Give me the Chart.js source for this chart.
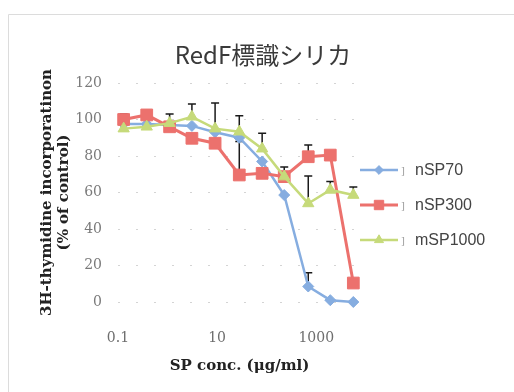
<!DOCTYPE html>
<html><head><meta charset="utf-8">
<script src="https://cdn.jsdelivr.net/npm/chart.js@4"></script>
<style>html,body{margin:0;padding:0;background:#fff;}#wrap{width:514px;height:392px;position:relative;}</style>
</head><body><div id="wrap"><canvas id="c" width="514" height="392"></canvas></div>
<script>
const titleText = 'RedF標識シリカ';
const seriesNames = ['nSP70', 'nSP300', 'mSP1000'];
const concentrations = [0.13, 0.38, 1.1, 3.1, 9.1, 28, 81, 226, 690, 1920, 5600];
const nSP70 = [97.5, 97.5, 97, 96.5, 93, 90, 77, 58.6, 8.5, 1, 0];
const nSP300 = [100, 102.5, 96, 89.7, 87, 69.6, 70.5, 68.7, 79.6, 80.5, 10.4];
const mSP1000 = [95, 96, 98, 101.5, 95, 93.3, 84, 68.7, 54, 61.4, 58.6];
const nSP70Upper = [null, null, null, null, null, null, null, null, 16, null, null];
const nSP300Upper = [103, 105, null, null, null, 88, null, 74, 86, null, null];
const mSP1000Upper = [null, null, 103, 108.5, 109, 102, 92.5, null, 69, 66, 63];
const xTickValues = [0.1, 10, 1000];
const xTickLabels = ['0.1', '10', '1000'];
const yTickValues = [0, 20, 40, 60, 80, 100, 120];
const xTitle = 'SP conc. (μg/ml)';
const yTitle = ['3H-thymidine incorporatinon', '(% of control)'];

const seriesValues = [nSP70, nSP300, mSP1000];
const seriesUpper = [nSP70Upper, nSP300Upper, mSP1000Upper];
const styles = [
  {color: '#86ADE0', pointStyle: 'rectRot', radius: 5.5, width: 2.5, order: 2},
  {color: '#EC716D', pointStyle: 'rect', radius: 8.3, width: 3, order: 1},
  {color: '#C6DA7A', pointStyle: 'triangle', radius: 6.5, width: 2.5, order: 0}
];

const datasets = seriesNames.map((name, i) => ({
  label: name,
  data: concentrations.map((c, j) => ({x: c, y: seriesValues[i][j]})),
  borderColor: styles[i].color,
  backgroundColor: styles[i].color,
  pointBackgroundColor: styles[i].color,
  pointBorderColor: styles[i].color,
  pointStyle: styles[i].pointStyle,
  pointRadius: styles[i].radius,
  pointBorderWidth: 1,
  borderWidth: styles[i].width,
  tension: 0,
  order: styles[i].order,
  clip: false
}));

const serif = '"DejaVu Serif", "Liberation Serif", serif';

const framePlugin = {
  id: 'frame',
  beforeDraw(chart) {
    const ctx = chart.ctx;
    ctx.save();
    ctx.fillStyle = '#fff';
    ctx.fillRect(0, 0, chart.width, chart.height);
    ctx.strokeStyle = '#dcdcdc';
    ctx.lineWidth = 1;
    ctx.beginPath();
    ctx.moveTo(8.5, chart.height);
    ctx.lineTo(8.5, 14.5);
    ctx.lineTo(chart.width, 14.5);
    ctx.stroke();
    ctx.restore();
  },
  afterDraw(chart) {
    const ctx = chart.ctx;
    ctx.save();
    ctx.fillStyle = '#3a3a3a';
    ctx.font = '24px "Noto Sans CJK JP", "Noto Sans", sans-serif';
    ctx.textAlign = 'center';
    ctx.textBaseline = 'middle';
    ctx.fillText(titleText, 263, 55);
    ctx.restore();
  }
};

const errorBarPlugin = {
  id: 'errorBars',
  beforeDatasetsDraw(chart) {
    const ctx = chart.ctx, xs = chart.scales.x, ys = chart.scales.y;
    ctx.save();
    ctx.strokeStyle = '#1a1a1a';
    ctx.lineWidth = 1.5;
    seriesUpper.forEach((up, i) => {
      up.forEach((u, j) => {
        if (u === null) return;
        const px = xs.getPixelForValue(concentrations[j]);
        const py0 = ys.getPixelForValue(seriesValues[i][j]);
        const py1 = ys.getPixelForValue(u);
        ctx.beginPath();
        ctx.moveTo(px, py0); ctx.lineTo(px, py1);
        ctx.moveTo(px - 4, py1); ctx.lineTo(px + 4, py1);
        ctx.stroke();
      });
    });
    ctx.restore();
  }
};

const legendPlugin = {
  id: 'customLegend',
  afterDraw(chart) {
    const ctx = chart.ctx;
    const x0 = 360, x1 = 398, tx = 415, top = 170, gap = 35;
    ctx.save();
    chart.data.datasets.forEach((ds, i) => {
      const y = top + gap * i;
      ctx.strokeStyle = ds.borderColor;
      ctx.lineWidth = ds.borderWidth;
      ctx.beginPath(); ctx.moveTo(x0, y); ctx.lineTo(x1, y); ctx.stroke();
      ctx.fillStyle = ds.backgroundColor;
      ctx.lineWidth = 1;
      Chart.helpers.drawPoint(ctx, {pointStyle: ds.pointStyle, radius: ds.pointRadius * 0.8, rotation: 0, borderWidth: 1}, (x0 + x1) / 2, y);
      ctx.fillStyle = '#a0a0a0';
      ctx.font = '10px ' + serif;
      ctx.textBaseline = 'middle';
      ctx.fillText(']', x1 + 3, y + 1);
      ctx.fillStyle = '#444';
      ctx.font = '16px "Liberation Sans", Arial, sans-serif';
      ctx.fillText(ds.label, tx, y + 1);
    });
    ctx.restore();
  }
};

new Chart(document.getElementById('c'), {
  type: 'line',
  data: {datasets},
  options: {
    responsive: false,
    animation: false,
    devicePixelRatio: 1,
    layout: {padding: {left: 0, right: 153, top: 83, bottom: 0}},
    plugins: {
      legend: {display: false},
      tooltip: {enabled: false},
      title: {display: false}
    },
    scales: {
      x: {
        type: 'logarithmic', min: 0.1, max: 8000,
        grid: {display: false},
        border: {display: false},
        afterBuildTicks: s => { s.ticks = xTickValues.map(v => ({value: v})); },
        afterFit: s => { s.height = 90; },
        ticks: {
          autoSkip: false, maxRotation: 0, padding: 20, color: '#6e6e6e',
          font: {family: serif, size: 14},
          callback: v => { const k = xTickValues.indexOf(v); return k >= 0 ? xTickLabels[k] : ''; }
        },
        title: {
          display: true, text: xTitle, color: '#222',
          font: {family: serif, size: 15, weight: 'bold'},
          padding: {top: 0, bottom: 17}
        }
      },
      y: {
        min: 0, max: 120,
        afterBuildTicks: s => { s.ticks = yTickValues.map(v => ({value: v})); },
        afterFit: s => { s.width = 118; },
        grid: {color: '#d4d4d4', drawTicks: false, lineWidth: 1},
        border: {display: false, dash: [2, 16]},
        ticks: {padding: 16, color: '#7a7a7a', font: {family: serif, size: 14}},
        title: {
          display: true, text: yTitle, color: '#222',
          font: {family: serif, size: 15, weight: 'bold', lineHeight: 1.15},
          padding: {top: 38, bottom: 0}
        }
      }
    }
  },
  plugins: [framePlugin, errorBarPlugin, legendPlugin]
});
</script>
</body></html>
